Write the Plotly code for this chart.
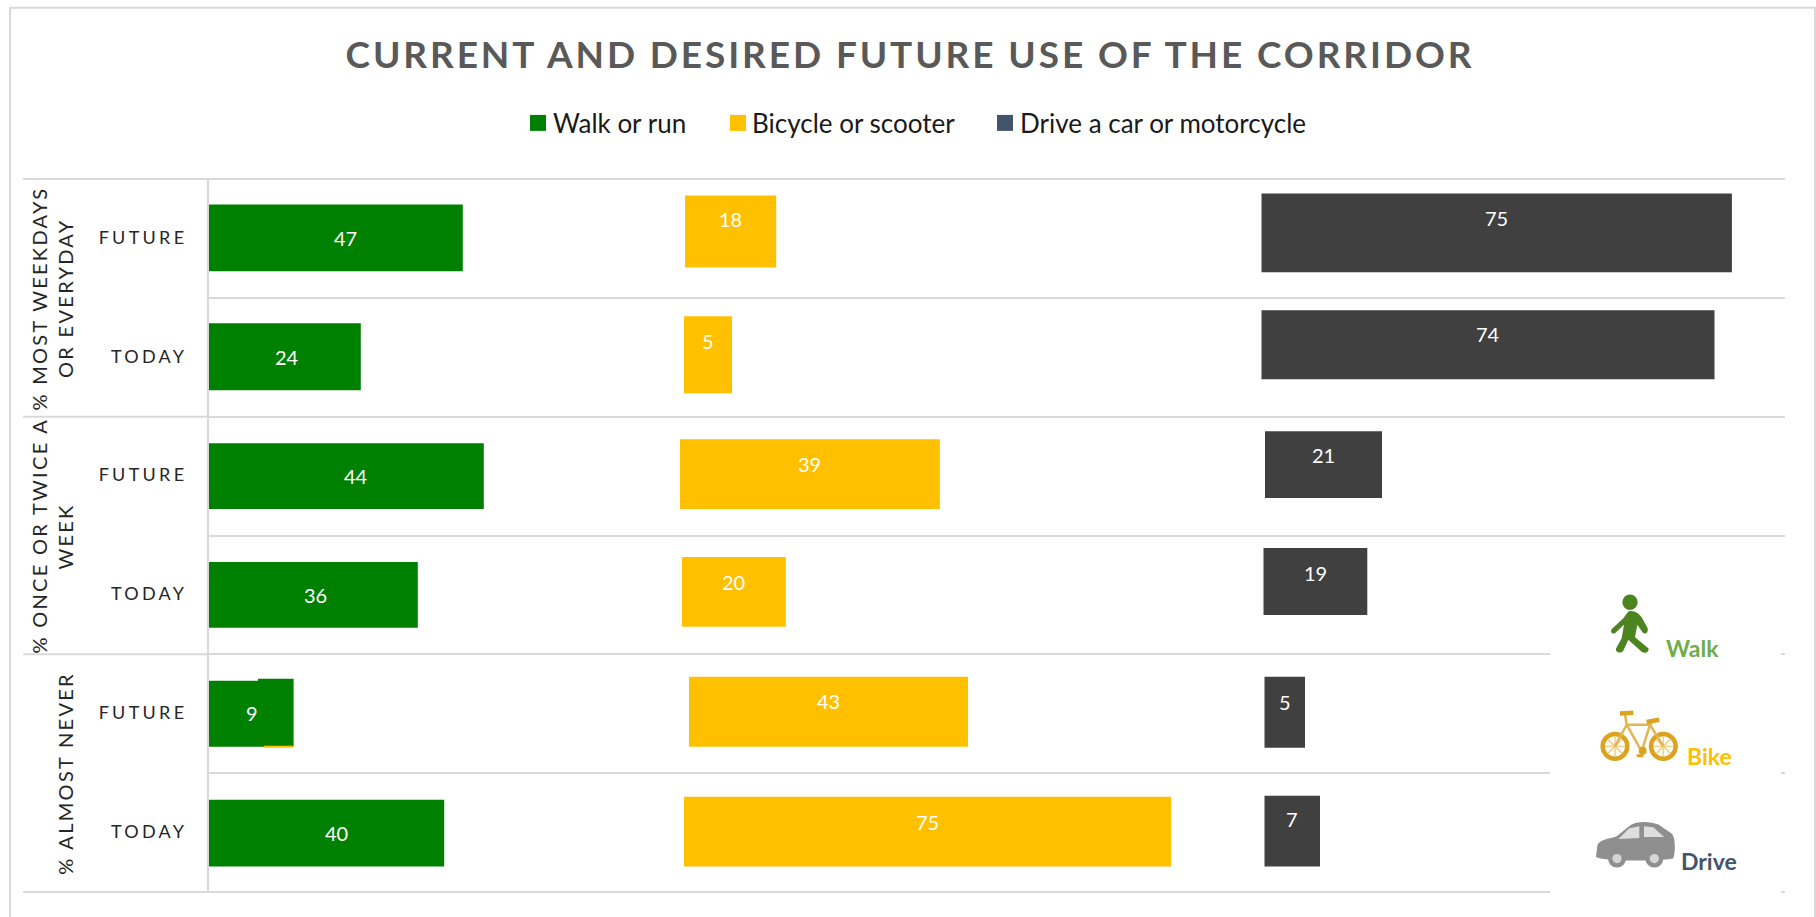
import re
import plotly.graph_objects as go

# ---------- data ----------
periods = ["FUTURE", "TODAY"] * 3
groups = [["% MOST WEEKDAYS", "OR EVERYDAY"], ["% ONCE OR TWICE A", "WEEK"], ["", "% ALMOST NEVER"]]
series_names = ["Walk or run", "Bicycle or scooter", "Drive a car or motorcycle"]
# printed labels
walk_labels = [47, 24, 44, 36, 9, 40]
bike_labels = [18, 5, 39, 20, 43, 75]
drive_labels = [75, 74, 21, 19, 5, 7]
# drawn bar lengths (the picture's bars do not follow the printed labels exactly)
walk_lengths = [42.3, 25.3, 45.8, 34.8, 14.1, 39.2]
bike_lengths = [15.2, 8.0, 43.3, 17.3, 46.5, 81.2]
drive_lengths = [78.4, 75.5, 19.5, 17.3, 6.75, 9.25]

# ---------- layout constants ----------
W, H = 1816, 917
L, R, T, B = 209, 1785, 178.5, 892.5
UNIT = 6.0  # px per x unit
ROW = (B - T) / 6
row_pos = [5.5, 4.5, 3.5, 2.5, 1.5, 0.5]
row_px = [T + ROW * (i + 0.5) for i in range(6)]

walk_start = [L] * 6
bike_start = [685, 684, 680, 682, 689, 684]
drive_start = [1261.5, 1261.5, 1265, 1263.5, 1264.5, 1264.5]
walk_edges = [(204, 271), (323, 390), (443, 509), (562, 628), (679, 747), (800, 867)]
bike_edges = [(195, 267), (316, 393), (439, 509), (557, 627), (677, 747), (797, 867)]
drive_edges = [(193, 272), (310, 379), (431, 498), (548, 615), (677, 748), (796, 867)]
walk_shift = [(10, 0), (2, 0), (10, 0), (2, 0), (1, 1), (10, 0)]
bike_shift = [(0, 19), (0, 16), (0, 12), (0, 13), (0, 13), (0, 11)]
drive_shift = [(0, 20), (0, 23), (0, 21), (0, 22), (0, 12), (0, 14)]

GREEN, GOLD, DARK, SLATE = "#008000", "#FFC000", "#404040", "#44546A"
GRID = "#D9D9D9"
FONT = "Lato"


def xp(x):
    return (x - L) / (R - L)


def yp(y):
    return (B - y) / (B - T)


fig = go.Figure()
annotations = []

for name, labels, lengths, starts, edges, shifts, colour in [
    (series_names[0], walk_labels, walk_lengths, walk_start, walk_edges, walk_shift, GREEN),
    (series_names[1], bike_labels, bike_lengths, bike_start, bike_edges, bike_shift, GOLD),
    (series_names[2], drive_labels, drive_lengths, drive_start, drive_edges, drive_shift, DARK),
]:
    base = [(s - L) / UNIT for s in starts]
    fig.add_trace(go.Bar(
        name=name, orientation="h", y=row_pos, x=lengths, base=base,
        width=[(b - t) / ROW for t, b in edges],
        offset=[(c - b) / ROW for c, (t, b) in zip(row_px, edges)],
        marker=dict(color=colour, line=dict(width=0)),
        showlegend=False, customdata=labels, hovertemplate="%{customdata}<extra>" + name + "</extra>",
    ))
    for i in range(6):
        annotations.append(dict(
            x=base[i] + lengths[i] / 2, y=row_pos[i], xref="x", yref="y",
            xshift=shifts[i][0], yshift=shifts[i][1], text=str(labels[i]), showarrow=False,
            font=dict(family=FONT, size=20, color="white"),
        ))

# legend entries (the third swatch is slate in the picture, unlike its bars)
for name, colour in zip(series_names, [GREEN, GOLD, SLATE]):
    fig.add_trace(go.Scatter(
        x=[None], y=[None], mode="markers", name=name,
        marker=dict(symbol="square", size=16, color=colour, line=dict(width=0)),
    ))


def note(text, x, y, size=19, color="#262626", angle=0, weight=None):
    annotations.append(dict(
        x=xp(x), y=yp(y), xref="paper", yref="paper", text=text, showarrow=False,
        xanchor="center", yanchor="middle",
        textangle=angle, font=dict(family=FONT, size=size, color=color, weight=weight),
    ))


# rotated group labels
for (first, second), cy in zip(groups, [298, 536, 774]):
    if first:
        note(first, 39, cy, size=20, angle=-90)
    note(second, 65, cy, size=20, angle=-90)

note("Walk", 1692, 648, size=23, color="#70AD47", weight="bold")
note("Bike", 1709, 756, size=23, color=GOLD, weight="bold")
note("Drive", 1709, 861, size=23, color=SLATE, weight="bold")

shapes = []


def line(x0, y0, x1, y1, color=GRID, width=2):
    shapes.append(dict(type="line", xref="paper", yref="paper", layer="above",
                       x0=xp(x0), x1=xp(x1), y0=yp(y0), y1=yp(y1),
                       line=dict(color=color, width=width)))


def rect(x0, y0, x1, y1, color):
    shapes.append(dict(type="rect", xref="paper", yref="paper", layer="above",
                       x0=xp(x0), x1=xp(x1), y0=yp(y0), y1=yp(y1),
                       fillcolor=color, line=dict(width=0)))


# outer frame
line(10, 7, 1815, 7)
line(10, 6, 10, 930)
line(1815, 6, 1815, 930)
# top and bottom rules, and group separators to the left of the axis
line(L, T, R, T)
line(L, B, R, B)
for y in [T, T + 2 * ROW, T + 4 * ROW, B]:
    line(23, y, L, y)
# white panel behind the icons
rect(1550, 600, 1781, 905, "white")
# small artefacts on the 9 bar
rect(209, 678, 258, 681, "white")
rect(264, 746, 293, 748, GOLD)


# ---------- icons, drawn in coordinates of a 3x crop whose origin is (1500, 560) ----------
def zx(v):
    return 1500 + v / 3


def zy(v):
    return 560 + v / 3


def zpath(d, fill=None, stroke=None, width=0):
    def rep(m):
        return f"{xp(zx(float(m.group(1)))):.5f},{yp(zy(float(m.group(2)))):.5f}"
    path = re.sub(r"(-?\d+(?:\.\d+)?),(-?\d+(?:\.\d+)?)", rep, d)
    shapes.append(dict(type="path", xref="paper", yref="paper", layer="above", path=path,
                       fillcolor=fill if fill else "rgba(0,0,0,0)",
                       line=dict(color=stroke if stroke else "rgba(0,0,0,0)", width=width)))


def zcircle(cx, cy, r, fill=None, stroke=None, width=0):
    shapes.append(dict(type="circle", xref="paper", yref="paper", layer="above",
                       x0=xp(zx(cx - r)), x1=xp(zx(cx + r)), y0=yp(zy(cy - r)), y1=yp(zy(cy + r)),
                       fillcolor=fill if fill else "rgba(0,0,0,0)",
                       line=dict(color=stroke if stroke else "rgba(0,0,0,0)", width=width)))


# walker
WALKER = "#4C8520"
zcircle(390, 127, 23, fill=WALKER)
zpath("M385,155 C400,150 415,158 425,172 L442,203 C447,215 438,227 428,218 L412,195 L405,232 "
      "L445,265 C450,275 435,283 425,276 L385,240 L372,268 C368,282 345,282 348,266 L365,235 "
      "L372,195 L345,220 C335,225 328,212 338,205 L370,175 Z", fill=WALKER)

# bicycle
BIKE = "#DBA31F"
BIKE_SOFT = "#EFD08A"
for cx in (345, 490):
    for d in (f"M{cx-30},560 L{cx+30},560", f"M{cx},530 L{cx},590",
              f"M{cx-21},539 L{cx+21},581", f"M{cx-21},581 L{cx+21},539"):
        zpath(d, stroke=BIKE_SOFT, width=1.5)
    zcircle(cx, 560, 37, stroke=BIKE, width=4.5)
zpath("M345,560 L380,495 L450,495 L425,575 L380,495 M450,495 L490,560 M380,495 L375,462 M450,495 L458,483",
      stroke="#E3B551", width=2.5)
zpath("M360,461 L400,459", stroke=BIKE, width=4.5)
zpath("M440,487 L478,480", stroke=BIKE, width=4.5)
zcircle(428, 573, 12, fill=BIKE)
zpath("M410,588 L430,588", stroke=BIKE, width=3)

# car
CAR = "#8F8F8F"
zpath("M288,892 L292,858 C298,838 330,838 350,830 L392,796 C410,784 450,784 475,795 L515,822 "
      "C528,835 526,885 520,896 C500,904 320,908 288,892 Z", fill=CAR)
zpath("M355,838 L388,806 L418,800 L418,835 Z", fill="#DEDEDE")
zpath("M432,800 L460,803 L492,832 L432,832 Z", fill="#DEDEDE")
for cx in (351, 463):
    zcircle(cx, 897, 27, fill=CAR)
    zcircle(cx, 897, 14, fill="#D5D5D5")

fig.update_layout(
    width=W, height=H, margin=dict(l=L, r=W - R, t=T, b=H - B, autoexpand=False),
    paper_bgcolor="white", plot_bgcolor="white", barmode="overlay",
    title=dict(text="CURRENT AND DESIRED FUTURE USE OF THE CORRIDOR", x=910 / W, xanchor="center",
               y=1 - 55 / H, yanchor="middle",
               font=dict(family=FONT, size=37, color="#595959", weight="bold")),
    legend=dict(orientation="h", xref="container", yref="container", x=918 / W, xanchor="center",
                y=1 - 123 / H, yanchor="middle", font=dict(family=FONT, size=26, color="#1A1A1A"),
                bgcolor="rgba(0,0,0,0)", itemclick=False, itemdoubleclick=False),
    xaxis=dict(visible=False, range=[0, (R - L) / UNIT], fixedrange=True),
    yaxis=dict(range=[0, 6], tickmode="array", tickvals=[p + 1 / ROW for p in row_pos], ticktext=periods,
               tickfont=dict(family=FONT, size=18, color="#262626"),
               ticks="", ticklabelstandoff=16, showgrid=False, zeroline=False,
               showline=True, linecolor=GRID, linewidth=2, fixedrange=True,
               minor=dict(tickmode="array", tickvals=[0, 1, 2, 3, 4, 5, 6], showgrid=True,
                          gridcolor=GRID, gridwidth=2, ticks="")),
    annotations=annotations, shapes=shapes,
)

post = """
document.body.style.margin = '0';
document.body.style.overflow = 'hidden';
var gd = document.getElementById('{plot_id}');
gd.querySelectorAll('.gtitle').forEach(function (t) { t.style.letterSpacing = '2.9px'; });
gd.querySelectorAll('.ytick text').forEach(function (t) { t.style.letterSpacing = '3.3px'; });
gd.querySelectorAll('.annotation-text').forEach(function (t) {
  if (/^%|OR EVERYDAY|^WEEK$/.test(t.textContent)) { t.style.letterSpacing = '2.3px'; }
});
// place the legend entries where the picture has them
var swatchLeft = [530, 730, 997], textLeft = [553, 752, 1020];
gd.querySelectorAll('.legend .scrollbox').forEach(function (s) { s.removeAttribute('clip-path'); });
gd.querySelectorAll('.legend .traces').forEach(function (g, i) {
  var sw = g.querySelector('.legendpoints path');
  var tx = g.querySelector('.legendtext');
  var m = /translate\\(([-\\d.]+)[ ,]*([-\\d.]+)?\\)/.exec(g.getAttribute('transform'));
  var dx = swatchLeft[i] - sw.getBoundingClientRect().left;
  g.setAttribute('transform', 'translate(' + (parseFloat(m[1]) + dx) + ',' + (m[2] || 0) + ')');
  var tdx = textLeft[i] - tx.getBoundingClientRect().left;
  tx.setAttribute('x', parseFloat(tx.getAttribute('x')) + tdx);
});
"""
fig.write_html("out.html", post_script=post, config={"displayModeBar": False})
